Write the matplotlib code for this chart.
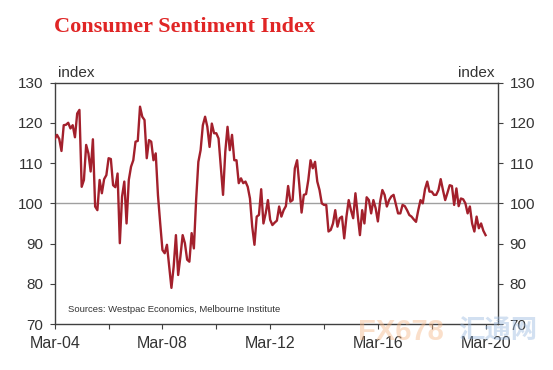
import matplotlib
matplotlib.use("Agg")
import matplotlib.pyplot as plt
import numpy as np

# ---- data (monthly, Mar-04 .. Mar-20) ----
sentiment = [
    116.0, 117.0, 116.0, 113.0, 119.4, 119.5, 120.0, 118.6, 119.4, 116.4, 122.3, 123.2,
    104.1, 105.8, 114.5, 112.4, 107.9, 115.9, 99.2, 98.3, 105.8, 102.5, 106.0, 107.0,
    111.2, 111.0, 104.5, 104.0, 107.4, 90.1, 101.7, 105.4,
    95.0, 105.8, 109.1, 110.7, 115.3, 115.5, 124.0, 121.5, 120.7, 111.2, 115.7, 115.3,
    110.7, 112.4, 102.0, 95.0, 88.4, 87.6, 89.7, 84.3, 79.0, 84.3, 92.1, 82.2,
    86.8, 92.1, 90.1, 86.0, 85.5, 92.6, 88.8,
    100.8, 110.3, 113.2, 119.4, 121.5, 119.0, 114.0, 119.8, 117.4, 117.4, 116.1, 109.1,
    102.1, 112.8, 119.0, 113.2, 117.0, 110.7, 110.7, 105.0, 106.2, 105.0, 105.4, 104.1,
    101.2, 94.2, 89.7, 96.7, 97.1, 103.5, 95.0, 97.5,
    100.8, 95.9, 94.6, 95.2, 95.7, 99.2, 96.7, 98.3, 99.3, 104.3, 100.4, 100.8,
    108.7, 110.7, 104.5, 97.7, 102.1, 102.3, 105.8, 110.7, 108.7, 110.3, 105.4, 103.3,
    100.0, 99.6, 99.6, 93.0, 93.4, 95.0, 98.3,
    94.2, 96.3, 96.7, 91.3, 96.7, 100.8, 98.3, 96.3, 102.5, 97.1, 92.1, 98.3,
    95.0, 101.5, 100.8, 97.5, 100.8, 98.8, 95.5, 100.4, 103.3, 102.1, 99.2, 100.8,
    101.7, 102.1, 99.8, 97.5,
    97.5, 99.6, 99.3, 98.3, 97.1, 96.7, 96.0, 95.4, 98.3, 100.8, 100.0, 103.5,
    105.4, 102.9, 102.9, 102.1, 102.1, 103.3, 106.0, 103.3, 100.8, 102.6, 104.5, 104.3,
    99.6, 103.7, 99.3, 101.2, 101.0, 100.0, 97.5, 99.2, 95.0, 93.0, 96.7, 93.8,
    95.0, 93.2, 92.1,
]
major_tick_months = [0, 48, 96, 144, 192]
major_tick_labels = ["Mar-04", "Mar-08", "Mar-12", "Mar-16", "Mar-20"]
minor_tick_months = [24, 72, 120, 168]
y_ticks = [70, 80, 90, 100, 110, 120, 130]

title = "Consumer Sentiment Index"
source = "Sources: Westpac Economics, Melbourne Institute"

months = np.arange(len(sentiment))

fig = plt.figure(figsize=(5.53, 3.70), dpi=100)
fig.patch.set_facecolor("white")
ax = fig.add_axes([0.099, 0.124, 0.801, 0.653])

txt = "#333333"
spine_c = "#404040"

ax.axhline(100, color="#a0a0a0", lw=1.0, zorder=1)
ax.plot(months, sentiment, color="#a3202c", lw=1.7, zorder=3,
        solid_joinstyle="round")

ax.set_xlim(0, 197.4)
ax.set_ylim(70, 130)

for s in ax.spines.values():
    s.set_color(spine_c)
    s.set_linewidth(1.0)

ax.set_yticks(y_ticks)
ax.set_yticklabels([str(v) for v in y_ticks])
ax.tick_params(axis="y", which="both", direction="out", length=3.5, width=0.8,
               color=spine_c, labelsize=11, labelcolor=txt, pad=5,
               left=True, right=True, labelleft=True, labelright=True)
ax.set_xticks(major_tick_months)
ax.set_xticklabels(major_tick_labels)
ax.set_xticks(minor_tick_months, minor=True)
ax.tick_params(axis="x", which="both", direction="out", length=3.5, width=0.8,
               color=spine_c, labelsize=11.5, labelcolor=txt, pad=5)
for lab in ax.get_xticklabels() + ax.get_yticklabels():
    lab.set_family(["Liberation Sans", "DejaVu Sans"])
    lab.set_zorder(5)

ax.text(0.008, 1.012, "index", transform=ax.transAxes, ha="left", va="bottom",
        fontsize=11, color=txt, family=["Liberation Sans"])
ax.text(0.992, 1.012, "index", transform=ax.transAxes, ha="right", va="bottom",
        fontsize=11, color=txt, family=["Liberation Sans"])

ax.text(0.03, 0.06, source, transform=ax.transAxes, ha="left", va="center",
        fontsize=6.8, color=txt, family=["Liberation Sans"])

fig.text(0.097, 0.928, title, ha="left", va="center", fontsize=16,
         fontweight="bold", color="#e02525", family=["Liberation Serif"])

# faint watermark (as in the reference)
fig.text(0.648, 0.104, "FX678", ha="left", va="center", fontsize=21,
         fontweight="bold", color="#f6b98a", alpha=0.45,
         family=["Liberation Sans"], zorder=0)
fig.text(0.828, 0.104, "汇通网", ha="left", va="center", fontsize=19,
         fontweight="bold", color="#9dbbe0", alpha=0.45,
         family=["Noto Sans CJK SC", "DejaVu Sans"], zorder=0)

fig.savefig("out.png", dpi=100, facecolor="white")
